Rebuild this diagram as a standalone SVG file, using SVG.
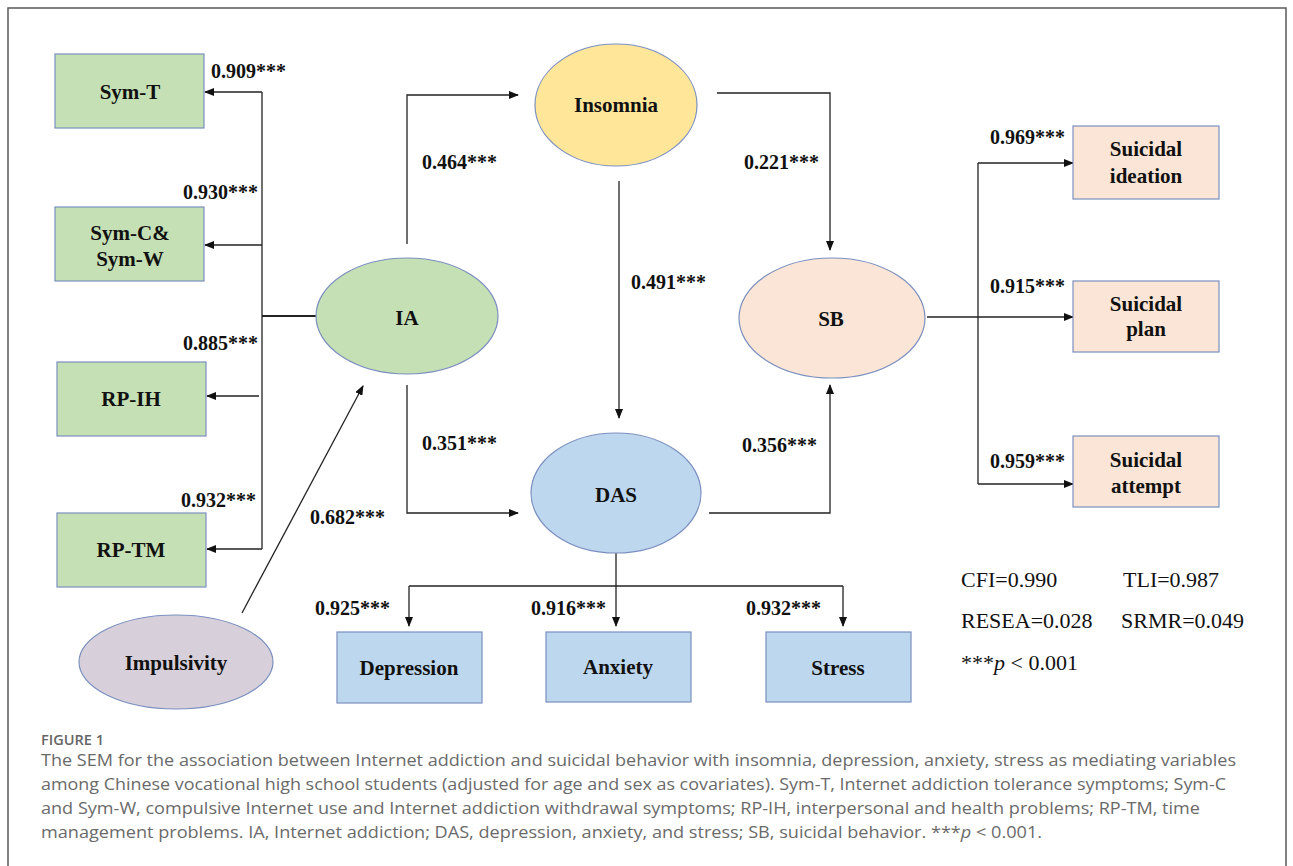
<svg xmlns="http://www.w3.org/2000/svg" width="1293" height="866" viewBox="0 0 1293 866">
<style>
.bg{fill:#ffffff}
.frame{fill:none;stroke:#5a5a5a;stroke-width:1.5}
.node{stroke:#7b8fbf;stroke-width:1.2}
.green{fill:#c5e0b4}
.yellow{fill:#ffe699}
.peach{fill:#fbe5d6}
.blue{fill:#bdd7ee}
.lav{fill:#d7d0da}
.lbl{font-family:"Liberation Serif","Times New Roman",serif;font-weight:bold;font-size:21px;fill:#111;text-anchor:middle}
.coef{font-family:"Liberation Serif","Times New Roman",serif;font-weight:bold;font-size:20px;fill:#111}
.stat{font-family:"Liberation Serif","Times New Roman",serif;font-size:22px;fill:#111}
.edge{fill:none;stroke:#222;stroke-width:1.3}
.cap{font-family:"Open Sans","Noto Sans",sans-serif;font-size:17px;fill:#6a6a6a}
.fig{font-family:"Open Sans","Noto Sans",sans-serif;font-size:14px;font-weight:600;fill:#666}
</style>
<defs>
<marker id="arr" markerWidth="10" markerHeight="8" refX="9" refY="4" orient="auto" markerUnits="userSpaceOnUse">
<path d="M0,0 L10,4 L0,8 z" fill="#111"/>
</marker>
</defs>
<rect class="bg" x="0" y="0" width="1293" height="866"/>
<rect class="frame" x="8" y="8" width="1278" height="880"/>

<g id="connectors">
<path class="edge" d="M262,92 V549" />
<path class="edge" d="M262,92 H205" marker-end="url(#arr)"/>
<path class="edge" d="M262,245 H205" marker-end="url(#arr)"/>
<path class="edge" d="M259,396 H207" marker-end="url(#arr)"/>
<path class="edge" d="M262,549 H207" marker-end="url(#arr)"/>
<path class="edge" d="M262,316 H316" style="stroke-width:2"/>
<path class="edge" d="M407,244 V95 H518" marker-end="url(#arr)"/>
<path class="edge" d="M407,385 V513 H518" marker-end="url(#arr)"/>
<path class="edge" d="M242,613 L363,386" marker-end="url(#arr)"/>
<path class="edge" d="M717,93 H830 V250" marker-end="url(#arr)"/>
<path class="edge" d="M619,181 V418" marker-end="url(#arr)"/>
<path class="edge" d="M709,513 H830 V385" marker-end="url(#arr)"/>
<path class="edge" d="M927,317 H1073" marker-end="url(#arr)"/>
<path class="edge" d="M978,163 V484" />
<path class="edge" d="M978,163 H1073" marker-end="url(#arr)"/>
<path class="edge" d="M978,484 H1073" marker-end="url(#arr)"/>
<path class="edge" d="M616,553 V626" marker-end="url(#arr)"/>
<path class="edge" d="M409,586 H843" />
<path class="edge" d="M409,586 V626" marker-end="url(#arr)"/>
<path class="edge" d="M843,586 V626" marker-end="url(#arr)"/>
</g>

<g id="labels">
<text class="coef" x="211" y="78">0.909***</text>
<text class="coef" x="183" y="199">0.930***</text>
<text class="coef" x="183" y="350">0.885***</text>
<text class="coef" x="181" y="507">0.932***</text>
<text class="coef" x="310" y="524">0.682***</text>
<text class="coef" x="422" y="169">0.464***</text>
<text class="coef" x="422" y="450">0.351***</text>
<text class="coef" x="744" y="169">0.221***</text>
<text class="coef" x="631" y="289">0.491***</text>
<text class="coef" x="742" y="452">0.356***</text>
<text class="coef" x="990" y="144">0.969***</text>
<text class="coef" x="990" y="293">0.915***</text>
<text class="coef" x="990" y="468">0.959***</text>
<text class="coef" x="315" y="615">0.925***</text>
<text class="coef" x="531" y="615">0.916***</text>
<text class="coef" x="746" y="615">0.932***</text>
</g>

<g id="SymT"><rect class="node green" x="55" y="54" width="149" height="74"/><text class="lbl" x="130" y="99">Sym-T</text></g>
<g id="SymCW"><rect class="node green" x="55" y="207" width="149" height="74"/><text class="lbl" x="130" y="240">Sym-C&amp;</text><text class="lbl" x="130" y="266">Sym-W</text></g>
<g id="RPIH"><rect class="node green" x="57" y="362" width="149" height="74"/><text class="lbl" x="131" y="406">RP-IH</text></g>
<g id="RPTM"><rect class="node green" x="57" y="513" width="149" height="74"/><text class="lbl" x="131" y="557">RP-TM</text></g>
<g id="IA"><ellipse class="node green" cx="407" cy="316" rx="91" ry="58"/><text class="lbl" x="407" y="325">IA</text></g>
<g id="Insomnia"><ellipse class="node yellow" cx="616" cy="105" rx="81" ry="61"/><text class="lbl" x="616" y="112">Insomnia</text></g>
<g id="SB"><ellipse class="node peach" cx="832" cy="318" rx="93" ry="60"/><text class="lbl" x="831" y="326">SB</text></g>
<g id="DAS"><ellipse class="node blue" cx="616" cy="493" rx="85" ry="60"/><text class="lbl" x="616" y="502">DAS</text></g>
<g id="Impulsivity"><ellipse class="node lav" cx="176" cy="662" rx="97" ry="47"/><text class="lbl" x="176" y="670">Impulsivity</text></g>
<g id="SuicIdeation"><rect class="node peach" x="1073" y="126" width="146" height="73"/><text class="lbl" x="1146" y="156">Suicidal</text><text class="lbl" x="1146" y="183">ideation</text></g>
<g id="SuicPlan"><rect class="node peach" x="1073" y="281" width="146" height="71"/><text class="lbl" x="1146" y="311">Suicidal</text><text class="lbl" x="1146" y="336">plan</text></g>
<g id="SuicAttempt"><rect class="node peach" x="1073" y="436" width="146" height="71"/><text class="lbl" x="1146" y="467">Suicidal</text><text class="lbl" x="1146" y="493">attempt</text></g>
<g id="Depression"><rect class="node blue" x="337" y="632" width="145" height="71"/><text class="lbl" x="409" y="675">Depression</text></g>
<g id="Anxiety"><rect class="node blue" x="546" y="632" width="145" height="70"/><text class="lbl" x="618" y="674">Anxiety</text></g>
<g id="Stress"><rect class="node blue" x="766" y="632" width="145" height="70"/><text class="lbl" x="838" y="675">Stress</text></g>

<g id="fit">
<text class="stat" x="961" y="587">CFI=0.990</text>
<text class="stat" x="1123" y="587">TLI=0.987</text>
<text class="stat" x="961" y="628">RESEA=0.028</text>
<text class="stat" x="1121" y="628">SRMR=0.049</text>
<text class="stat" x="961" y="670">***<tspan font-style="italic">p</tspan> &lt; 0.001</text>
</g>

<g id="caption">
<text class="fig" x="41" y="745" textLength="63" lengthAdjust="spacingAndGlyphs">FIGURE 1</text>
<text class="cap" x="41" y="766" textLength="1195" lengthAdjust="spacingAndGlyphs">The SEM for the association between Internet addiction and suicidal behavior with insomnia, depression, anxiety, stress as mediating variables</text>
<text class="cap" x="41" y="790" textLength="1185" lengthAdjust="spacingAndGlyphs">among Chinese vocational high school students (adjusted for age and sex as covariates). Sym-T, Internet addiction tolerance symptoms; Sym-C</text>
<text class="cap" x="41" y="814" textLength="1159" lengthAdjust="spacingAndGlyphs">and Sym-W, compulsive Internet use and Internet addiction withdrawal symptoms; RP-IH, interpersonal and health problems; RP-TM, time</text>
<text class="cap" x="41" y="838" textLength="1001" lengthAdjust="spacingAndGlyphs">management problems. IA, Internet addiction; DAS, depression, anxiety, and stress; SB, suicidal behavior. ***<tspan font-style="italic">p</tspan> &lt; 0.001.</text>
</g>
</svg>
